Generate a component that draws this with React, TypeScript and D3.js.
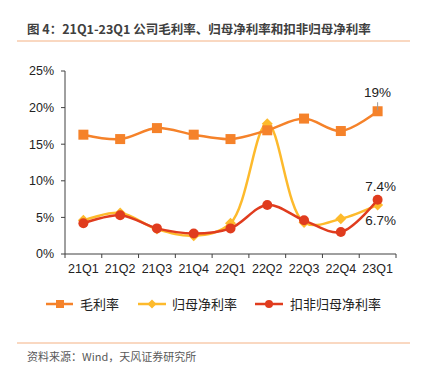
import * as d3 from "d3";
import React from "react";

const quarters = ["21Q1", "21Q2", "21Q3", "21Q4", "22Q1", "22Q2", "22Q3", "22Q4", "23Q1"];
const grossMargin = [16.3, 15.7, 17.2, 16.3, 15.7, 16.9, 18.5, 16.8, 19.5];
const netMargin = [4.6, 5.6, 3.4, 2.5, 4.2, 17.8, 4.3, 4.8, 6.7];
const deductedMargin = [4.2, 5.3, 3.5, 2.8, 3.5, 6.7, 4.6, 3.0, 7.4];
const yTicks = [0, 5, 10, 15, 20, 25];

const W = 425;
const H = 370;
const margin = { top: 71, left: 65, right: 29, bottom: 116 };
const font = "'Liberation Sans', Arial, 'Noto Sans CJK SC', sans-serif";
const cjk = "'Noto Sans CJK SC', 'Liberation Sans', sans-serif";

const ORANGE = "#F5822A";
const YELLOW = "#FDBA2C";
const RED = "#E03C1E";

const App = () => {
  const width = W - margin.left - margin.right;
  const height = H - margin.top - margin.bottom;

  const x = d3.scaleBand().domain(quarters).range([0, width]);
  const y = d3.scaleLinear().domain([0, 25]).range([height, 0]);
  const cx = (q) => x(q) + x.bandwidth() / 2;

  const line = d3
    .line()
    .x((d) => d[0])
    .y((d) => d[1])
    .curve(d3.curveCatmullRom.alpha(0.5));

  const path = (vals) => line(vals.map((v, i) => [cx(quarters[i]), y(v)]));

  const square = (px, py, s, color, key) => (
    <rect key={key} x={px - s / 2} y={py - s / 2} width={s} height={s} fill={color} />
  );
  const diamond = (px, py, s, color, key) => (
    <path key={key} d={`M${px},${py - s}L${px + s},${py}L${px},${py + s}L${px - s},${py}Z`} fill={color} />
  );
  const dot = (px, py, r, color, key) => <circle key={key} cx={px} cy={py} r={r} fill={color} />;

  const lastX = cx(quarters[8]);

  return (
    <svg width={W} height={H} style={{ position: "absolute", left: 0, top: 0 }}>
      <text x={27} y={34} fontFamily={cjk} fontSize={12.5} fontWeight="bold" fill="#404040">
        图 4：21Q1-23Q1 公司毛利率、归母净利率和扣非归母净利率
      </text>
      <line x1={17} x2={410} y1={41} y2={41} stroke="#F4B183" strokeWidth={1} />

      <g transform={`translate(${margin.left},${margin.top})`}>
        {/* y axis */}
        <line x1={0} x2={0} y1={0} y2={height} stroke="#404040" strokeWidth={1} />
        {yTicks.map((t) => (
          <g key={t} transform={`translate(0,${y(t)})`}>
            <line x1={-4} x2={0} stroke="#404040" />
            <text x={-11} dy="0.35em" textAnchor="end" fontFamily={font} fontSize={12.5} fill="#222">
              {t}%
            </text>
          </g>
        ))}
        {/* x axis */}
        <line x1={0} x2={width} y1={height} y2={height} stroke="#404040" strokeWidth={1} />
        {quarters.map((q) => (
          <line key={q} x1={x(q)} x2={x(q)} y1={height} y2={height + 4} stroke="#404040" />
        ))}
        <line x1={width} x2={width} y1={height} y2={height + 4} stroke="#404040" />
        {quarters.map((q) => (
          <text key={q} x={cx(q)} y={height + 19} textAnchor="middle" fontFamily={font} fontSize={12.5} fill="#222">
            {q}
          </text>
        ))}

        {/* yellow */}
        <path d={path(netMargin)} fill="none" stroke={YELLOW} strokeWidth={2.5} />
        {netMargin.map((v, i) => diamond(cx(quarters[i]), y(v), 5.5, YELLOW, "n" + i))}
        {/* orange */}
        <path d={path(grossMargin)} fill="none" stroke={ORANGE} strokeWidth={2.5} />
        {grossMargin.map((v, i) => square(cx(quarters[i]), y(v), 10, ORANGE, "g" + i))}
        {/* red */}
        <path d={path(deductedMargin)} fill="none" stroke={RED} strokeWidth={2.5} />
        {deductedMargin.map((v, i) => dot(cx(quarters[i]), y(v), 5, RED, "d" + i))}

        {/* labels */}
        <line x1={lastX} x2={lastX} y1={y(grossMargin[8]) - 9} y2={y(grossMargin[8]) - 1} stroke="#999" />
        <text x={lastX} y={y(grossMargin[8]) - 14} textAnchor="middle" fontFamily={font} fontSize={13.5} fill="#222">
          19%
        </text>
        <text x={lastX + 3} y={y(deductedMargin[8]) - 9} textAnchor="middle" fontFamily={font} fontSize={13.5} fill="#222">
          7.4%
        </text>
        <text x={lastX + 3} y={y(netMargin[8]) + 20} textAnchor="middle" fontFamily={font} fontSize={13.5} fill="#222">
          6.7%
        </text>
      </g>

      {/* legend */}
      <g transform="translate(0,304)">
        <line x1={46} x2={73} stroke={ORANGE} strokeWidth={2.5} />
        {square(60, 0, 8, ORANGE, "lg")}
        <text x={80} dy="0.35em" fontFamily={cjk} fontSize={13} fill="#222">毛利率</text>
        <line x1={138} x2={166} stroke={YELLOW} strokeWidth={2.5} />
        {diamond(152, 0, 4.5, YELLOW, "ln")}
        <text x={172} dy="0.35em" fontFamily={cjk} fontSize={13} fill="#222">归母净利率</text>
        <line x1={255} x2={283} stroke={RED} strokeWidth={2.5} />
        {dot(269, 0, 4, RED, "ld")}
        <text x={290} dy="0.35em" fontFamily={cjk} fontSize={13} fill="#222">扣非归母净利率</text>
      </g>

      <line x1={17} x2={410} y1={343} y2={343} stroke="#F4B183" strokeWidth={1} />
      <text x={27} y={361} fontFamily={cjk} fontSize={11} fill="#595959">
        资料来源：Wind，天风证券研究所
      </text>
    </svg>
  );
};

export default App;
